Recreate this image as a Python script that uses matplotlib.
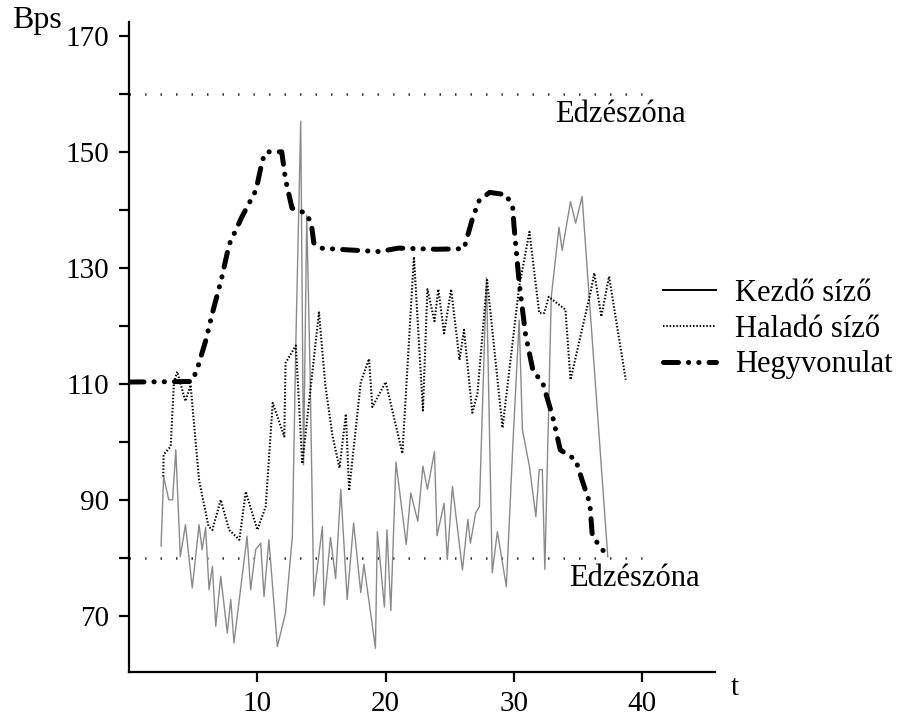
import matplotlib
matplotlib.use("Agg")
import matplotlib.pyplot as plt
import numpy as np

plt.rcParams['font.family'] = ['Liberation Serif', 'DejaVu Serif']

# Kezdő síző (beginner skier) - thin grey line
kezdo_t = [2.5, 2.7, 3.1, 3.4, 3.65, 4.0, 4.4, 4.93, 5.46, 5.7, 5.97, 6.24, 6.5, 6.76,
           7.15, 7.66, 7.93, 8.18, 9.2, 9.48, 9.87, 10.26, 10.52, 10.9, 11.56, 12.2,
           12.73, 13.0, 13.38, 13.6, 13.85, 14.1, 14.4, 15.07, 15.2, 15.7, 16.1, 16.5,
           17.0, 17.5, 18.06, 18.3, 19.2, 19.35, 19.9, 20.1, 20.4, 20.8, 21.6, 21.95,
           22.5, 22.9, 23.25, 23.8, 24.0, 24.55, 24.8, 25.2, 25.98, 26.4, 26.6, 27.0,
           27.3, 27.85, 28.3, 28.7, 29.4, 29.9, 30.4, 30.65, 31.2, 31.7, 31.96, 32.2,
           32.4, 32.9, 33.5, 33.75, 34.4, 34.8, 35.3, 35.7, 37.3]
kezdo_bps = [82, 94, 90, 90, 98.6, 80.2, 85.7, 74.8, 85.7, 81.4, 85.2, 74.5, 78.5, 68.2,
             76.8, 67, 72.8, 65.3, 83.7, 74.5, 81.4, 82.5, 73.3, 83.1, 64.7, 70.5,
             83.7, 117, 155.3, 96, 139, 113, 73.4, 85.4, 71.8, 83.5, 76.4, 91.8,
             72.8, 86, 74, 78.9, 64.4, 84.5, 71.5, 84.8, 70.9, 96.5, 82.3, 91.2,
             86.3, 95.8, 91.8, 98.3, 83.8, 89.4, 79.7, 92.3, 77.9, 86.6, 82.5, 87.7,
             88.8, 128.3, 77.4, 84.5, 75, 99.2, 121, 102.1, 95.7, 87.1, 95.2, 95.2,
             78, 125, 137, 133, 141.4, 137.7, 142.3, 129.7, 80.2]

# Haladó síző (advanced skier) - dotted line
halado_t = [2.67, 2.7, 3.25, 3.5, 3.76, 4.4, 4.8, 5.46, 6.2, 6.5, 7.15, 7.8, 8.6, 9.1,
            10.0, 10.65, 11.2, 12.1, 12.2, 13.0, 13.5, 14.8, 15.3, 15.85, 16.4, 16.9,
            17.15, 18.06, 18.7, 18.96, 20.0, 21.3, 22.2, 22.9, 23.25, 23.8, 24.1,
            24.55, 25.1, 25.75, 26.1, 26.75, 27.15, 27.9, 29.1, 30.4, 31.2, 31.96,
            32.35, 32.7, 34.0, 34.4, 36.0, 36.25, 36.8, 37.4, 38.7]
halado_bps = [94, 97.8, 99.2, 110.1, 112.1, 107, 109.8, 93.4, 85.4, 84.8, 90, 84.8, 83.1,
              91.4, 84.8, 88.8, 106.7, 100.9, 113.6, 116.6, 96.2, 122.3, 109.7, 101.1,
              95.5, 104.8, 91.6, 110.3, 114.3, 106, 110.3, 98, 131.9, 105.4, 126.3,
              120.8, 126.3, 118.7, 126.3, 114.1, 119.3, 105, 108.4, 127.9, 102.4,
              126.8, 136.2, 122.2, 122.2, 125, 122.8, 110.7, 126.2, 129.1, 121.6,
              128.5, 110.7]

# Hegyvonulat (terrain profile)
hegy_t = [0, 4.9, 5.3, 6.0, 6.5, 7.2, 7.8, 8.8, 9.9, 10.4, 10.7, 11.9, 12.2, 12.7, 13.8,
          14.2, 14.4, 14.9, 17, 19.5, 21, 24, 26.1, 26.8, 27.3, 28.1, 29.4, 29.9, 30.0,
          30.4, 30.9, 31.5, 32.2, 33.0, 33.6, 34.8, 35.3, 35.9, 36.1, 36.9, 37.2]
hegy_bps = [110.3, 110.4, 112.4, 117.6, 122.2, 128, 134, 138.8, 143.4, 148.6, 150, 150,
            145.2, 140.3, 139.4, 137.7, 134.3, 133.4, 133.1, 132.8, 133.4, 133.2, 133.3,
            138.8, 141.7, 143, 142.6, 140.3, 137.1, 127.4, 118.4, 112, 110.4, 104.4,
            98.6, 96.9, 93.4, 89.4, 83.7, 81.4, 80.2]

zone_levels = [160, 80]
zone_label = "Edzészóna"

fig = plt.figure(figsize=(9.05, 7.2), dpi=100)
ax = fig.add_axes([0.1425, 0.0667, 0.6475, 0.9028])

ax.hlines(zone_levels, 0, 41, colors='#333333', linewidth=1.8,
          linestyles=[(0, (0.6, 5.6))])

l1, = ax.plot(kezdo_t, kezdo_bps, color='#8a8a8a', lw=1.0, label='Kezdő síző')
l2, = ax.plot(halado_t, halado_bps, color='black', lw=1.5,
              linestyle=(0, (0.7, 0.9)), label='Haladó síző')
l3, = ax.plot(hegy_t, hegy_bps, color='black', lw=3.6,
              linestyle=(0, (3, 2, 0.05, 2, 0.05, 2)), dash_capstyle='round',
              label='Hegyvonulat')

ax.text(33.2, 156.4, zone_label, fontsize=22, va='center', ha='left')
ax.text(34.3, 76.5, zone_label, fontsize=22, va='center', ha='left')

ax.set_xlim(0, 45.65)
ax.set_ylim(60.3, 172.4)
ax.set_xticks([10, 20, 30, 40])
ax.set_yticks([70, 90, 110, 130, 150, 170])
ax.set_yticks([80, 100, 120, 140, 160], minor=True)
ax.tick_params(axis='both', which='both', direction='out', length=7, width=1.6,
               labelsize=21)
ax.tick_params(axis='y', which='both', pad=7)
ax.tick_params(axis='x', pad=7)
for s in ['top', 'right']:
    ax.spines[s].set_visible(False)
for s in ['left', 'bottom']:
    ax.spines[s].set_linewidth(1.6)

leg = fig.legend(handles=[l1, l2, l3], loc='center left',
                 bbox_to_anchor=(0.719, 0.543), frameon=False, fontsize=22,
                 borderaxespad=0, handlelength=1.75, handletextpad=0.6,
                 labelspacing=0.22)
leg.legend_handles[0].set_color('black')
leg.legend_handles[0].set_linewidth(1.4)

fig.text(12 / 905, 1 - 28 / 720, 'Bps', fontsize=23, va='baseline', ha='left')
fig.text(735 / 905, 1 - 688 / 720, 't', fontsize=21, va='center', ha='center')

fig.savefig('out.png', dpi=100)
